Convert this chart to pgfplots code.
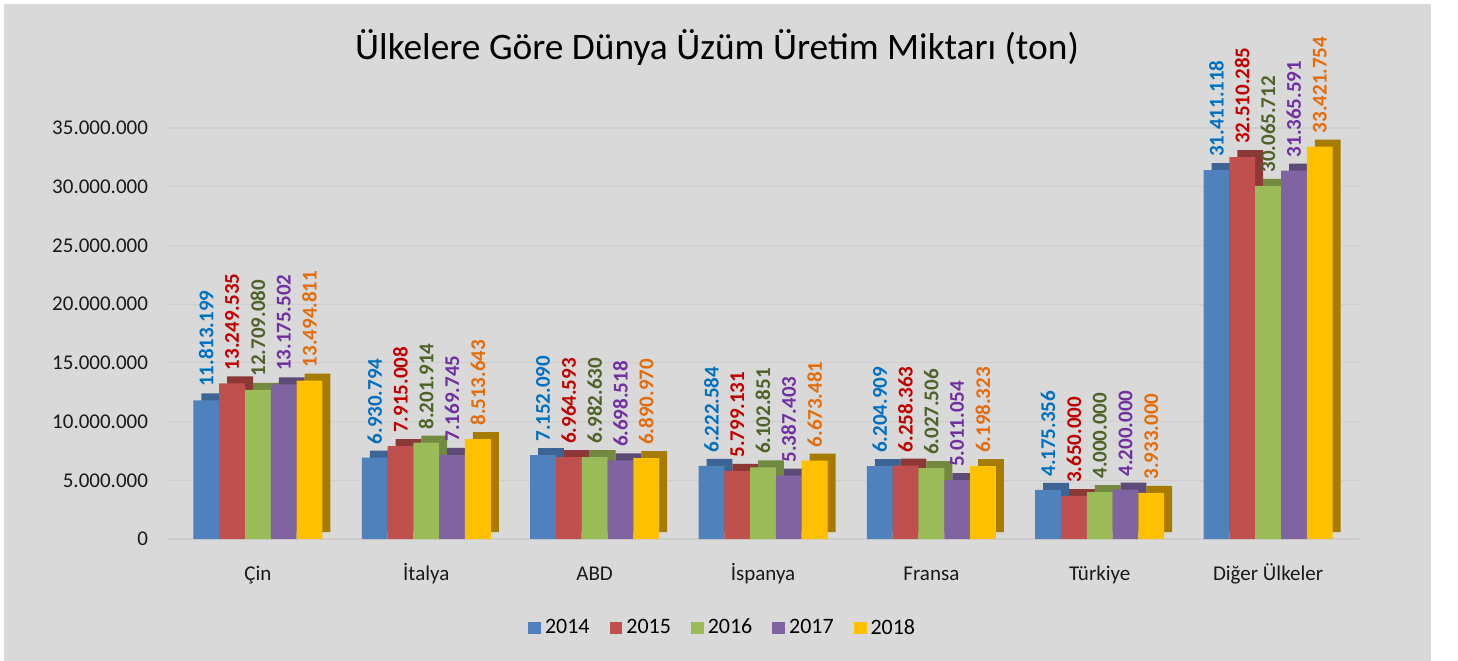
\documentclass[border=0pt]{standalone}
\usepackage{fontspec}
\setmainfont{Carlito}
\usepackage{pgfplots}
\pgfplotsset{compat=1.18}

\definecolor{bg}{HTML}{D9D9D9}
\definecolor{gridc}{HTML}{CECECE}
% bar fronts
\definecolor{c1}{HTML}{4F81BD}
\definecolor{c2}{HTML}{C0504D}
\definecolor{c3}{HTML}{9BBB59}
\definecolor{c4}{HTML}{8064A2}
\definecolor{c5}{HTML}{FFC000}
% bar sides / tops
\definecolor{c1d}{HTML}{3C6494}
\definecolor{c2d}{HTML}{8C3836}
\definecolor{c3d}{HTML}{73893F}
\definecolor{c4d}{HTML}{5E4A78}
\definecolor{c5d}{HTML}{A67C00}
% data labels
\definecolor{c1l}{HTML}{0070C0}
\definecolor{c2l}{HTML}{C00000}
\definecolor{c3l}{HTML}{4F6228}
\definecolor{c4l}{HTML}{7030A0}
\definecolor{c5l}{HTML}{E46C0A}

\begin{document}
\begin{tikzpicture}
\useasboundingbox (-83.5bp,-61bp) rectangle (645.5bp,269.5bp);
\fill[white] (-83.5bp,-61bp) rectangle (645.5bp,269.5bp);
\fill[bg] (-81.5bp,-61bp) rectangle (632bp,267.5bp);
\begin{axis}[
    at={(0,0)}, anchor=south west,
    scale only axis,
    width=596bp, height=205.5bp,
    xmin=-0.54, xmax=6.54,
    ymin=0, ymax=35000000,
    axis line style={draw=none},
    major tick length=0pt,
    xtick={0,...,6},
    xticklabels={Çin, İtalya, ABD, İspanya, Fransa, Türkiye, Diğer Ülkeler},
    ytick={0,5000000,10000000,15000000,20000000,25000000,30000000,35000000},
    scaled y ticks=false,
    /pgf/number format/fixed,
    /pgf/number format/1000 sep={.},
    /pgf/number format/assume math mode=true,
    tick label style={font=\fontsize{10.5bp}{12bp}\selectfont, text=black!90},
    yticklabel style={xshift=-6bp},
    xticklabel style={anchor=base, yshift=-20.5bp},
    ymajorgrids,
    grid style={draw=gridc, line width=0.6bp},
    ybar, bar width=12.9bp,
    clip=false,
    point meta=explicit symbolic,
    every node near coord/.append style={font=\fontsize{10.5bp}{12bp}\selectfont\bfseries, rotate=90, anchor=west, inner sep=6.5bp},
    legend columns=5,
    legend style={at={(0.467,-0.2165)}, anchor=center, draw=none, fill=none,
        font=\fontsize{11bp}{13bp}\selectfont,
        /tikz/every even column/.append style={column sep=8bp}},
    legend image code/.code={\fill[#1] (0bp,-3.2bp) rectangle (6.4bp,3.2bp);},
]
% 2014
\addplot[fill=c1d, draw=none, bar shift=-21.8bp, yshift=3.5bp, forget plot] coordinates {
    (0,11813199) (1,6930794) (2,7152090) (3,6222584) (4,6204909) (5,4175356) (6,31411118)};
\addplot[fill=c1, draw=none, bar shift=-25.8bp, nodes near coords,
    every node near coord/.append style={text=c1l}] coordinates {
    (0,11813199) [11.813.199] (1,6930794) [6.930.794] (2,7152090) [7.152.090]
    (3,6222584) [6.222.584] (4,6204909) [6.204.909] (5,4175356) [4.175.356]
    (6,31411118) [31.411.118]};
\addlegendentry{2014}
% 2015
\addplot[fill=c2d, draw=none, bar shift=-8.9bp, yshift=3.5bp, forget plot] coordinates {
    (0,13249535) (1,7915008) (2,6964593) (3,5799131) (4,6258363) (5,3650000) (6,32510285)};
\addplot[fill=c2, draw=none, bar shift=-12.9bp, nodes near coords,
    every node near coord/.append style={text=c2l}] coordinates {
    (0,13249535) [13.249.535] (1,7915008) [7.915.008] (2,6964593) [6.964.593]
    (3,5799131) [5.799.131] (4,6258363) [6.258.363] (5,3650000) [3.650.000]
    (6,32510285) [32.510.285]};
\addlegendentry{2015}
% 2016
\addplot[fill=c3d, draw=none, bar shift=4bp, yshift=3.5bp, forget plot] coordinates {
    (0,12709080) (1,8201914) (2,6982630) (3,6102851) (4,6027506) (5,4000000) (6,30065712)};
\addplot[fill=c3, draw=none, bar shift=0bp, nodes near coords,
    every node near coord/.append style={text=c3l}] coordinates {
    (0,12709080) [12.709.080] (1,8201914) [8.201.914] (2,6982630) [6.982.630]
    (3,6102851) [6.102.851] (4,6027506) [6.027.506] (5,4000000) [4.000.000]
    (6,30065712) [30.065.712]};
\addlegendentry{2016}
% 2017
\addplot[fill=c4d, draw=none, bar shift=16.9bp, yshift=3.5bp, forget plot] coordinates {
    (0,13175502) (1,7169745) (2,6698518) (3,5387403) (4,5011054) (5,4200000) (6,31365591)};
\addplot[fill=c4, draw=none, bar shift=12.9bp, nodes near coords,
    every node near coord/.append style={text=c4l}] coordinates {
    (0,13175502) [13.175.502] (1,7169745) [7.169.745] (2,6698518) [6.698.518]
    (3,5387403) [5.387.403] (4,5011054) [5.011.054] (5,4200000) [4.200.000]
    (6,31365591) [31.365.591]};
\addlegendentry{2017}
% 2018
\addplot[fill=c5d, draw=none, bar shift=29.8bp, yshift=3.5bp, forget plot] coordinates {
    (0,13494811) (1,8513643) (2,6890970) (3,6673481) (4,6198323) (5,3933000) (6,33421754)};
\addplot[fill=c5, draw=none, bar shift=25.8bp, nodes near coords,
    every node near coord/.append style={text=c5l}] coordinates {
    (0,13494811) [13.494.811] (1,8513643) [8.513.643] (2,6890970) [6.890.970]
    (3,6673481) [6.673.481] (4,6198323) [6.198.323] (5,3933000) [3.933.000]
    (6,33421754) [33.421.754]};
\addlegendentry{2018}
\end{axis}
\node[font=\fontsize{18.7bp}{22bp}\selectfont, text=black] at (275bp,245.5bp)
    {Ülkelere Göre Dünya Üzüm Üretim Miktarı (ton)};
\end{tikzpicture}
\end{document}
